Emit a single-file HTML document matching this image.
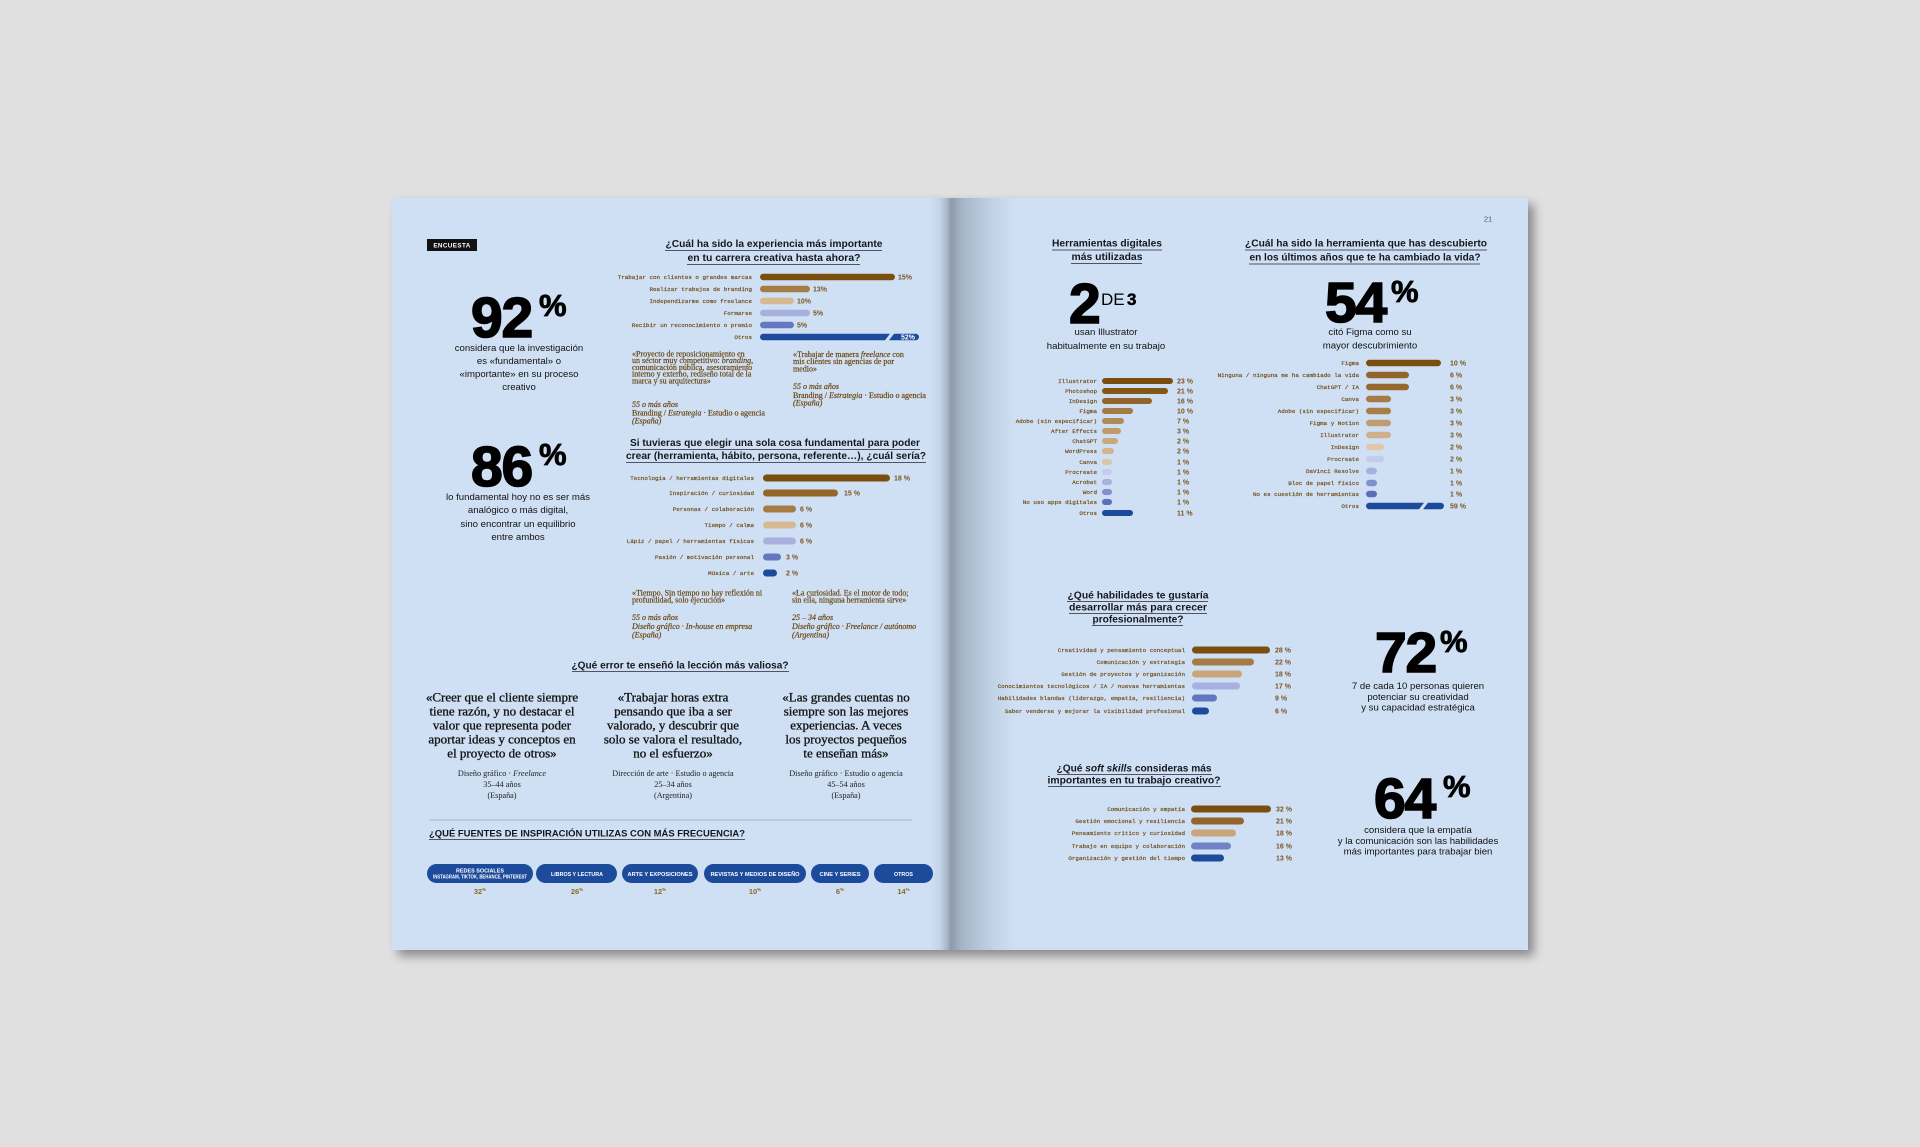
<!DOCTYPE html>
<html><head><meta charset="utf-8">
<style>
html,body{margin:0;padding:0;background:#e0e0e0;width:1920px;height:1147px;overflow:hidden}
svg{display:block}
.s{font-family:"Liberation Sans",Arial,sans-serif}
.h{font-family:"Liberation Sans",Arial,sans-serif;font-weight:bold;font-size:10.2px;fill:#16171d;text-anchor:middle}
.lb{font-family:"Liberation Mono",monospace;font-size:5.9px;fill:#6e4a14;stroke:#6e4a14;stroke-width:0.18;text-anchor:end}
.pc{font-family:"Liberation Sans",Arial,sans-serif;font-weight:bold;font-size:7px;fill:#7a5520}
.big{font-family:"Liberation Sans",Arial,sans-serif;font-weight:bold;font-size:57px;fill:#000;stroke:#000;stroke-width:1.6;letter-spacing:-1.2px}
.pct{font-family:"Liberation Sans",Arial,sans-serif;font-weight:bold;font-size:31px;fill:#000;stroke:#000;stroke-width:0.8}
.bt{font-family:"Liberation Sans",Arial,sans-serif;font-size:9.6px;fill:#111;text-anchor:middle}
.q{font-family:"Liberation Serif",serif;font-size:8px;fill:#6a4510;stroke:#6a4510;stroke-width:0.2}
.bq{font-family:"Liberation Serif",serif;font-size:13px;fill:#141414;stroke:#141414;stroke-width:0.35;text-anchor:middle}
.at{font-family:"Liberation Serif",serif;font-size:8.2px;fill:#222;text-anchor:middle}
.pl{font-family:"Liberation Sans",Arial,sans-serif;font-weight:bold;font-size:5.3px;fill:#fff;text-anchor:middle}
.pp{font-family:"Liberation Sans",Arial,sans-serif;font-weight:bold;font-size:7.5px;fill:#8a6a22;text-anchor:middle}
.ul{stroke:#4d5466;stroke-width:1.1}
</style></head>
<body>
<svg xmlns="http://www.w3.org/2000/svg" width="1920" height="1147" viewBox="0 0 1920 1147">
<defs>
<filter id="sh" x="-5%" y="-5%" width="110%" height="115%"><feGaussianBlur stdDeviation="5"/></filter>
<linearGradient id="gut" gradientUnits="userSpaceOnUse" x1="930" y1="0" x2="1015" y2="0">
<stop offset="0" stop-color="#cfe0f4"/>
<stop offset="0.12" stop-color="#c3d4e8"/>
<stop offset="0.2" stop-color="#a8b7ca"/>
<stop offset="0.25" stop-color="#8d9aab"/>
<stop offset="0.3" stop-color="#98a6b8"/>
<stop offset="0.38" stop-color="#a6b5c7"/>
<stop offset="0.55" stop-color="#b3c3d7"/>
<stop offset="0.75" stop-color="#c2d3e8"/>
<stop offset="1" stop-color="#cfe0f4"/>
</linearGradient>
</defs>
<rect width="1920" height="1147" fill="#e0e0e0"/>
<rect x="398" y="204" width="1136" height="752" fill="#000" opacity="0.38" filter="url(#sh)"/>
<rect x="392" y="198" width="1136" height="752" fill="#cfe0f4"/>
<rect x="930" y="198" width="85" height="752" fill="url(#gut)"/>

<!-- ================= LEFT PAGE ================= -->
<rect x="427" y="239" width="50" height="12" fill="#111"/>
<text x="452" y="247.5" class="s" font-size="6.3" font-weight="bold" fill="#fff" text-anchor="middle" letter-spacing="0.4">ENCUESTA</text>

<text x="471" y="337" class="big">92</text>
<text x="539" y="316" class="pct">%</text>
<text class="bt"><tspan x="519" y="351">considera que la investigación</tspan><tspan x="519" y="364">es «fundamental» o</tspan><tspan x="519" y="377">«importante» en su proceso</tspan><tspan x="519" y="390">creativo</tspan></text>

<text x="471" y="486" class="big">86</text>
<text x="539" y="465" class="pct">%</text>
<text class="bt"><tspan x="518" y="500">lo fundamental hoy no es ser más</tspan><tspan x="518" y="513">analógico o más digital,</tspan><tspan x="518" y="527">sino encontrar un equilibrio</tspan><tspan x="518" y="540">entre ambos</tspan></text>

<!-- Q1 -->
<text x="774" y="247" class="h" textLength="217" lengthAdjust="spacingAndGlyphs">¿Cuál ha sido la experiencia más importante</text>
<text x="774" y="261" class="h" textLength="173" lengthAdjust="spacingAndGlyphs">en tu carrera creativa hasta ahora?</text>
<line x1="665" y1="250.5" x2="882" y2="250.5" class="ul"/>
<line x1="687" y1="264.5" x2="860" y2="264.5" class="ul"/>

<text x="752" y="279" class="lb">Trabajar con clientes o grandes marcas</text>
<rect x="760" y="273.75" width="135" height="6.5" rx="3.25" fill="#7a4e0e"/>
<text x="898" y="279.5" class="pc">15%</text>
<text x="752" y="291" class="lb">Realizar trabajos de branding</text>
<rect x="760" y="285.75" width="50" height="6.5" rx="3.25" fill="#a67c45"/>
<text x="813" y="291.5" class="pc">13%</text>
<text x="752" y="303" class="lb">Independizarme como freelance</text>
<rect x="760" y="297.75" width="34" height="6.5" rx="3.25" fill="#d6b992"/>
<text x="797" y="303.5" class="pc">10%</text>
<text x="752" y="315" class="lb">Formarse</text>
<rect x="760" y="309.75" width="50" height="6.5" rx="3.25" fill="#a8b1de"/>
<text x="813" y="315.5" class="pc">5%</text>
<text x="752" y="327" class="lb">Recibir un reconocimiento o premio</text>
<rect x="760" y="321.75" width="34" height="6.5" rx="3.25" fill="#6478c0"/>
<text x="797" y="327.5" class="pc">5%</text>
<text x="752" y="339" class="lb">Otros</text>
<path d="M763.25,333.75 H890 L885,340.25 H763.25 A3.25,3.25 0 0 1 763.25,333.75 Z" fill="#1c4b9b"/>
<path d="M894,333.75 H915.75 A3.25,3.25 0 0 1 915.75,340.25 H889 Z" fill="#1c4b9b"/>
<text x="915" y="339.5" class="pc" style="fill:#fff" font-size="6.5" text-anchor="end">52%</text>

<text class="q"><tspan x="632" y="356.5">«Proyecto de reposicionamiento en</tspan><tspan x="632" y="363.2">un sector muy competitivo: <tspan font-style="italic">branding</tspan>,</tspan><tspan x="632" y="369.9">comunicación pública, asesoramiento</tspan><tspan x="632" y="376.6">interno y externo, rediseño total de la</tspan><tspan x="632" y="383.3">marca y su arquitectura»</tspan></text>
<text class="q" font-size="7"><tspan x="632" y="407" font-style="italic">55 o más años</tspan><tspan x="632" y="415.5">Branding / <tspan font-style="italic">Estrategia</tspan> · Estudio o agencia</tspan><tspan x="632" y="423.5" font-style="italic">(España)</tspan></text>

<text class="q"><tspan x="793" y="357">«Trabajar de manera <tspan font-style="italic">freelance</tspan> con</tspan><tspan x="793" y="364">mis clientes sin agencias de por</tspan><tspan x="793" y="371.5">medio»</tspan></text>
<text class="q" font-size="7"><tspan x="793" y="389" font-style="italic">55 o más años</tspan><tspan x="793" y="398">Branding / <tspan font-style="italic">Estrategia</tspan> · Estudio o agencia</tspan><tspan x="793" y="405.5" font-style="italic">(España)</tspan></text>

<!-- Q2 -->
<text x="775" y="446" class="h" textLength="290" lengthAdjust="spacingAndGlyphs">Si tuvieras que elegir una sola cosa fundamental para poder</text>
<text x="776" y="459" class="h" textLength="300" lengthAdjust="spacingAndGlyphs">crear (herramienta, hábito, persona, referente…), ¿cuál sería?</text>
<line x1="630" y1="449.5" x2="920" y2="449.5" class="ul"/>
<line x1="626" y1="462.5" x2="926" y2="462.5" class="ul"/>

<text x="754" y="480" class="lb">Tecnología / herramientas digitales</text>
<rect x="763" y="474.5" width="127" height="7" rx="3.5" fill="#7a4e0e"/>
<text x="894" y="480.5" class="pc">18 %</text>
<text x="754" y="495" class="lb">Inspiración / curiosidad</text>
<rect x="763" y="489.5" width="75" height="7" rx="3.5" fill="#94662a"/>
<text x="844" y="495.5" class="pc">15 %</text>
<text x="754" y="511" class="lb">Personas / colaboración</text>
<rect x="763" y="505.5" width="33" height="7" rx="3.5" fill="#a67c45"/>
<text x="800" y="511.5" class="pc">6 %</text>
<text x="754" y="527" class="lb">Tiempo / calma</text>
<rect x="763" y="521.5" width="33" height="7" rx="3.5" fill="#d6b992"/>
<text x="800" y="527.5" class="pc">6 %</text>
<text x="754" y="543" class="lb">Lápiz / papel / herramientas físicas</text>
<rect x="763" y="537.5" width="33" height="7" rx="3.5" fill="#a8b1de"/>
<text x="800" y="543.5" class="pc">6 %</text>
<text x="754" y="559" class="lb">Pasión / motivación personal</text>
<rect x="763" y="553.5" width="18" height="7" rx="3.5" fill="#6478c0"/>
<text x="786" y="559.5" class="pc">3 %</text>
<text x="754" y="575" class="lb">Música / arte</text>
<rect x="763" y="569.5" width="14" height="7" rx="3.5" fill="#1c4b9b"/>
<text x="786" y="575.5" class="pc">2 %</text>

<text class="q"><tspan x="632" y="595.5">«Tiempo. Sin tiempo no hay reflexión ni</tspan><tspan x="632" y="602.5">profundidad, solo ejecución»</tspan></text>
<text class="q" font-size="7" font-style="italic"><tspan x="632" y="620">55 o más años</tspan><tspan x="632" y="629">Diseño gráfico · In-house en empresa</tspan><tspan x="632" y="637.5">(España)</tspan></text>
<text class="q"><tspan x="792" y="595.5">«La curiosidad. Es el motor de todo;</tspan><tspan x="792" y="602.5">sin ella, ninguna herramienta sirve»</tspan></text>
<text class="q" font-size="7" font-style="italic"><tspan x="792" y="620">25 – 34 años</tspan><tspan x="792" y="629">Diseño gráfico · Freelance / autónomo</tspan><tspan x="792" y="637.5">(Argentina)</tspan></text>

<!-- Q3 -->
<text x="680" y="668.5" class="h" textLength="217" lengthAdjust="spacingAndGlyphs">¿Qué error te enseñó la lección más valiosa?</text>
<line x1="572" y1="671.5" x2="789" y2="671.5" class="ul"/>

<text class="bq"><tspan x="502" y="701.5">«Creer que el cliente siempre</tspan><tspan x="502" y="715.5">tiene razón, y no destacar el</tspan><tspan x="502" y="729.5">valor que representa poder</tspan><tspan x="502" y="743.5">aportar ideas y conceptos en</tspan><tspan x="502" y="757.5">el proyecto de otros»</tspan></text>
<text class="bq"><tspan x="673" y="701.5">«Trabajar horas extra</tspan><tspan x="673" y="715.5">pensando que iba a ser</tspan><tspan x="673" y="729.5">valorado, y descubrir que</tspan><tspan x="673" y="743.5">solo se valora el resultado,</tspan><tspan x="673" y="757.5">no el esfuerzo»</tspan></text>
<text class="bq"><tspan x="846" y="701.5">«Las grandes cuentas no</tspan><tspan x="846" y="715.5">siempre son las mejores</tspan><tspan x="846" y="729.5">experiencias. A veces</tspan><tspan x="846" y="743.5">los proyectos pequeños</tspan><tspan x="846" y="757.5">te enseñan más»</tspan></text>

<text class="at"><tspan x="502" y="776">Diseño gráfico · <tspan font-style="italic">Freelance</tspan></tspan><tspan x="502" y="787">35–44 años</tspan><tspan x="502" y="798">(España)</tspan></text>
<text class="at"><tspan x="673" y="776">Dirección de arte · Estudio o agencia</tspan><tspan x="673" y="787">25–34 años</tspan><tspan x="673" y="798">(Argentina)</tspan></text>
<text class="at"><tspan x="846" y="776">Diseño gráfico · Estudio o agencia</tspan><tspan x="846" y="787">45–54 años</tspan><tspan x="846" y="798">(España)</tspan></text>

<line x1="429" y1="820" x2="912" y2="820" stroke="#99a3b2" stroke-width="0.8"/>

<text x="429" y="836.5" class="s" font-weight="bold" font-size="8.8" fill="#16171d" textLength="316" lengthAdjust="spacingAndGlyphs">¿QUÉ FUENTES DE INSPIRACIÓN UTILIZAS CON MÁS FRECUENCIA?</text>
<line x1="429" y1="839.5" x2="745" y2="839.5" class="ul"/>

<!-- pills -->
<rect x="427" y="864" width="106" height="19" rx="9.5" fill="#1c4b9b"/>
<rect x="536" y="864" width="81" height="19" rx="9.5" fill="#1c4b9b"/>
<rect x="622" y="864" width="76" height="19" rx="9.5" fill="#1c4b9b"/>
<rect x="704" y="864" width="102" height="19" rx="9.5" fill="#1c4b9b"/>
<rect x="811" y="864" width="58" height="19" rx="9.5" fill="#1c4b9b"/>
<rect x="874" y="864" width="59" height="19" rx="9.5" fill="#1c4b9b"/>
<text x="480" y="872.5" class="pl" textLength="48" lengthAdjust="spacingAndGlyphs">REDES SOCIALES</text>
<text x="480" y="878.5" class="pl" font-size="3.6" textLength="94" lengthAdjust="spacingAndGlyphs">INSTAGRAM, TIKTOK, BEHANCE, PINTEREST</text>
<text x="577" y="875.8" class="pl" textLength="52" lengthAdjust="spacingAndGlyphs">LIBROS Y LECTURA</text>
<text x="660" y="875.8" class="pl" textLength="65" lengthAdjust="spacingAndGlyphs">ARTE Y EXPOSICIONES</text>
<text x="755" y="875.8" class="pl" textLength="89" lengthAdjust="spacingAndGlyphs">REVISTAS Y MEDIOS DE DISEÑO</text>
<text x="840" y="875.8" class="pl" textLength="41" lengthAdjust="spacingAndGlyphs">CINE Y SERIES</text>
<text x="903.5" y="875.8" class="pl" textLength="19" lengthAdjust="spacingAndGlyphs">OTROS</text>

<text x="480" y="894" class="pp">32<tspan font-size="4.5" dy="-3">%</tspan></text>
<text x="577" y="894" class="pp">26<tspan font-size="4.5" dy="-3">%</tspan></text>
<text x="660" y="894" class="pp">12<tspan font-size="4.5" dy="-3">%</tspan></text>
<text x="755" y="894" class="pp">10<tspan font-size="4.5" dy="-3">%</tspan></text>
<text x="840" y="894" class="pp">6<tspan font-size="4.5" dy="-3">%</tspan></text>
<text x="903.5" y="894" class="pp">14<tspan font-size="4.5" dy="-3">%</tspan></text>

<!-- ================= RIGHT PAGE ================= -->
<text x="1488" y="221.5" class="s" font-size="7.5" fill="#555" text-anchor="middle">21</text>

<text x="1107" y="246.5" class="h" textLength="110" lengthAdjust="spacingAndGlyphs">Herramientas digitales</text>
<text x="1107" y="260" class="h" textLength="71" lengthAdjust="spacingAndGlyphs">más utilizadas</text>
<line x1="1052" y1="250" x2="1162" y2="250" class="ul"/>
<line x1="1071" y1="263.5" x2="1142" y2="263.5" class="ul"/>

<text x="1069" y="323" class="big" font-size="56">2</text>
<text x="1101" y="305" class="s" font-size="17" fill="#000">DE</text>
<text x="1127" y="305" class="s" font-size="17" font-weight="bold" fill="#000" stroke="#000" stroke-width="0.5">3</text>
<text class="bt"><tspan x="1106" y="335">usan Illustrator</tspan><tspan x="1106" y="349">habitualmente en su trabajo</tspan></text>

<g>
<text x="1097" y="383" class="lb">Illustrator</text><rect x="1102" y="378" width="71" height="6" rx="3" fill="#7a4e0e"/><text x="1177" y="383.5" class="pc">23 %</text>
<text x="1097" y="393" class="lb">Photoshop</text><rect x="1102" y="388" width="66" height="6" rx="3" fill="#845716"/><text x="1177" y="393.5" class="pc">21 %</text>
<text x="1097" y="403" class="lb">InDesign</text><rect x="1102" y="398" width="50" height="6" rx="3" fill="#93652a"/><text x="1177" y="403.5" class="pc">16 %</text>
<text x="1097" y="413" class="lb">Figma</text><rect x="1102" y="408" width="31" height="6" rx="3" fill="#a47a45"/><text x="1177" y="413.5" class="pc">10 %</text>
<text x="1097" y="423" class="lb">Adobe (sin especificar)</text><rect x="1102" y="418" width="22" height="6" rx="3" fill="#b08a57"/><text x="1177" y="423.5" class="pc">7 %</text>
<text x="1097" y="433" class="lb">After Effects</text><rect x="1102" y="428" width="19" height="6" rx="3" fill="#bf9b6c"/><text x="1177" y="433.5" class="pc">3 %</text>
<text x="1097" y="443" class="lb">ChatGPT</text><rect x="1102" y="438" width="16" height="6" rx="3" fill="#c9a87e"/><text x="1177" y="443.5" class="pc">2 %</text>
<text x="1097" y="453" class="lb">WordPress</text><rect x="1102" y="448" width="12" height="6" rx="3" fill="#d2b48e"/><text x="1177" y="453.5" class="pc">2 %</text>
<text x="1097" y="464" class="lb">Canva</text><rect x="1102" y="459" width="10" height="6" rx="3" fill="#dcc5a3"/><text x="1177" y="464.5" class="pc">1 %</text>
<text x="1097" y="474" class="lb">Procreate</text><rect x="1102" y="469" width="10" height="6" rx="3" fill="#c5cbea"/><text x="1177" y="474.5" class="pc">1 %</text>
<text x="1097" y="484" class="lb">Acrobat</text><rect x="1102" y="479" width="10" height="6" rx="3" fill="#a7b0de"/><text x="1177" y="484.5" class="pc">1 %</text>
<text x="1097" y="494" class="lb">Word</text><rect x="1102" y="489" width="10" height="6" rx="3" fill="#8190ce"/><text x="1177" y="494.5" class="pc">1 %</text>
<text x="1097" y="504" class="lb">No uso apps digitales</text><rect x="1102" y="499" width="10" height="6" rx="3" fill="#5a6fbb"/><text x="1177" y="504.5" class="pc">1 %</text>
<text x="1097" y="515" class="lb">Otros</text><rect x="1102" y="510" width="31" height="6" rx="3" fill="#1c4b9b"/><text x="1177" y="515.5" class="pc">11 %</text>
</g>

<text x="1366" y="246.5" class="h" textLength="242" lengthAdjust="spacingAndGlyphs">¿Cuál ha sido la herramienta que has descubierto</text>
<text x="1365" y="260.5" class="h" textLength="231" lengthAdjust="spacingAndGlyphs">en los últimos años que te ha cambiado la vida?</text>
<line x1="1245" y1="250" x2="1487" y2="250" class="ul"/>
<line x1="1249" y1="264" x2="1480" y2="264" class="ul"/>

<text x="1325" y="322" class="big" font-size="56">54</text>
<text x="1391" y="302" class="pct">%</text>
<text class="bt"><tspan x="1370" y="335">citó Figma como su</tspan><tspan x="1370" y="348.5">mayor descubrimiento</tspan></text>

<g>
<text x="1359" y="365" class="lb">Figma</text><rect x="1366" y="359.75" width="75" height="6.5" rx="3.25" fill="#7a4e0e"/><text x="1450" y="365.5" class="pc">10 %</text>
<text x="1359" y="377" class="lb">Ninguna / ninguna me ha cambiado la vida</text><rect x="1366" y="371.75" width="43" height="6.5" rx="3.25" fill="#93652a"/><text x="1450" y="377.5" class="pc">6 %</text>
<text x="1359" y="389" class="lb">ChatGPT / IA</text><rect x="1366" y="383.75" width="43" height="6.5" rx="3.25" fill="#96682d"/><text x="1450" y="389.5" class="pc">6 %</text>
<text x="1359" y="401" class="lb">Canva</text><rect x="1366" y="395.75" width="25" height="6.5" rx="3.25" fill="#a47a45"/><text x="1450" y="401.5" class="pc">3 %</text>
<text x="1359" y="413" class="lb">Adobe (sin especificar)</text><rect x="1366" y="407.75" width="25" height="6.5" rx="3.25" fill="#a77d48"/><text x="1450" y="413.5" class="pc">3 %</text>
<text x="1359" y="425" class="lb">Figma y Notion</text><rect x="1366" y="419.75" width="25" height="6.5" rx="3.25" fill="#c09d70"/><text x="1450" y="425.5" class="pc">3 %</text>
<text x="1359" y="437" class="lb">Illustrator</text><rect x="1366" y="431.75" width="25" height="6.5" rx="3.25" fill="#d0b08a"/><text x="1450" y="437.5" class="pc">3 %</text>
<text x="1359" y="449" class="lb">InDesign</text><rect x="1366" y="443.75" width="18" height="6.5" rx="3.25" fill="#e0c9a8"/><text x="1450" y="449.5" class="pc">2 %</text>
<text x="1359" y="461" class="lb">Procreate</text><rect x="1366" y="455.75" width="18" height="6.5" rx="3.25" fill="#c6cbea"/><text x="1450" y="461.5" class="pc">2 %</text>
<text x="1359" y="473" class="lb">DaVinci Resolve</text><rect x="1366" y="467.75" width="11" height="6.5" rx="3.25" fill="#a7b0de"/><text x="1450" y="473.5" class="pc">1 %</text>
<text x="1359" y="485" class="lb">Bloc de papel físico</text><rect x="1366" y="479.75" width="11" height="6.5" rx="3.25" fill="#8190ce"/><text x="1450" y="485.5" class="pc">1 %</text>
<text x="1359" y="496" class="lb">No es cuestión de herramientas</text><rect x="1366" y="490.75" width="11" height="6.5" rx="3.25" fill="#5a6fbb"/><text x="1450" y="496.5" class="pc">1 %</text>
<text x="1359" y="508" class="lb">Otros</text>
<path d="M1369.25,502.75 H1424 L1419,509.25 H1369.25 A3.25,3.25 0 0 1 1369.25,502.75 Z" fill="#1c4b9b"/>
<path d="M1428,502.75 H1440.75 A3.25,3.25 0 0 1 1440.75,509.25 H1423 Z" fill="#1c4b9b"/>
<text x="1450" y="508.5" class="pc">59 %</text>
</g>

<!-- Habilidades -->
<text x="1138" y="598.5" class="h" textLength="141" lengthAdjust="spacingAndGlyphs">¿Qué habilidades te gustaría</text>
<text x="1138" y="610.5" class="h" textLength="138" lengthAdjust="spacingAndGlyphs">desarrollar más para crecer</text>
<text x="1138" y="622.5" class="h" textLength="91" lengthAdjust="spacingAndGlyphs">profesionalmente?</text>
<line x1="1067" y1="601.5" x2="1208" y2="601.5" class="ul"/>
<line x1="1069" y1="613.5" x2="1207" y2="613.5" class="ul"/>
<line x1="1092" y1="625.5" x2="1183" y2="625.5" class="ul"/>

<g>
<text x="1185" y="652" class="lb">Creatividad y pensamiento conceptual</text><rect x="1192" y="646.5" width="78" height="7" rx="3.5" fill="#7a4e0e"/><text x="1275" y="652.5" class="pc">28 %</text>
<text x="1185" y="664" class="lb">Comunicación y estrategia</text><rect x="1192" y="658.5" width="62" height="7" rx="3.5" fill="#a47a45"/><text x="1275" y="664.5" class="pc">22 %</text>
<text x="1185" y="676" class="lb">Gestión de proyectos y organización</text><rect x="1192" y="670.5" width="50" height="7" rx="3.5" fill="#c9a57a"/><text x="1275" y="676.5" class="pc">18 %</text>
<text x="1185" y="688" class="lb">Conocimientos tecnológicos / IA / nuevas herramientas</text><rect x="1192" y="682.5" width="48" height="7" rx="3.5" fill="#a7b0de"/><text x="1275" y="688.5" class="pc">17 %</text>
<text x="1185" y="700" class="lb">Habilidades blandas (liderazgo, empatía, resiliencia)</text><rect x="1192" y="694.5" width="25" height="7" rx="3.5" fill="#6275bf"/><text x="1275" y="700.5" class="pc">9 %</text>
<text x="1185" y="713" class="lb">Saber venderse y mejorar la visibilidad profesional</text><rect x="1192" y="707.5" width="17" height="7" rx="3.5" fill="#1c4b9b"/><text x="1275" y="713.5" class="pc">6 %</text>
</g>

<text x="1375" y="672" class="big" font-size="56">72</text>
<text x="1440" y="652" class="pct">%</text>
<text class="bt"><tspan x="1418" y="689">7 de cada 10 personas quieren</tspan><tspan x="1418" y="700">potenciar su creatividad</tspan><tspan x="1418" y="710.5">y su capacidad estratégica</tspan></text>

<!-- Soft skills -->
<text x="1134" y="771.5" class="h" textLength="155" lengthAdjust="spacingAndGlyphs">¿Qué <tspan font-style="italic">soft skills</tspan> consideras más</text>
<text x="1134" y="783.5" class="h" textLength="173" lengthAdjust="spacingAndGlyphs">importantes en tu trabajo creativo?</text>
<line x1="1057" y1="774.5" x2="1212" y2="774.5" class="ul"/>
<line x1="1048" y1="786.5" x2="1221" y2="786.5" class="ul"/>

<g>
<text x="1185" y="811" class="lb">Comunicación y empatía</text><rect x="1191" y="805.5" width="80" height="7" rx="3.5" fill="#7a4e0e"/><text x="1276" y="811.5" class="pc">32 %</text>
<text x="1185" y="823" class="lb">Gestión emocional y resiliencia</text><rect x="1191" y="817.5" width="53" height="7" rx="3.5" fill="#93652a"/><text x="1276" y="823.5" class="pc">21 %</text>
<text x="1185" y="835" class="lb">Pensamiento crítico y curiosidad</text><rect x="1191" y="829.5" width="45" height="7" rx="3.5" fill="#c9a57a"/><text x="1276" y="835.5" class="pc">18 %</text>
<text x="1185" y="848" class="lb">Trabajo en equipo y colaboración</text><rect x="1191" y="842.5" width="40" height="7" rx="3.5" fill="#7182c6"/><text x="1276" y="848.5" class="pc">16 %</text>
<text x="1185" y="860" class="lb">Organización y gestión del tiempo</text><rect x="1191" y="854.5" width="33" height="7" rx="3.5" fill="#1c4b9b"/><text x="1276" y="860.5" class="pc">13 %</text>
</g>

<text x="1374" y="818" class="big" font-size="56">64</text>
<text x="1443" y="797" class="pct">%</text>
<text class="bt"><tspan x="1418" y="833">considera que la empatía</tspan><tspan x="1418" y="844">y la comunicación son las habilidades</tspan><tspan x="1418" y="854.5">más importantes para trabajar bien</tspan></text>
</svg>
</body></html>
